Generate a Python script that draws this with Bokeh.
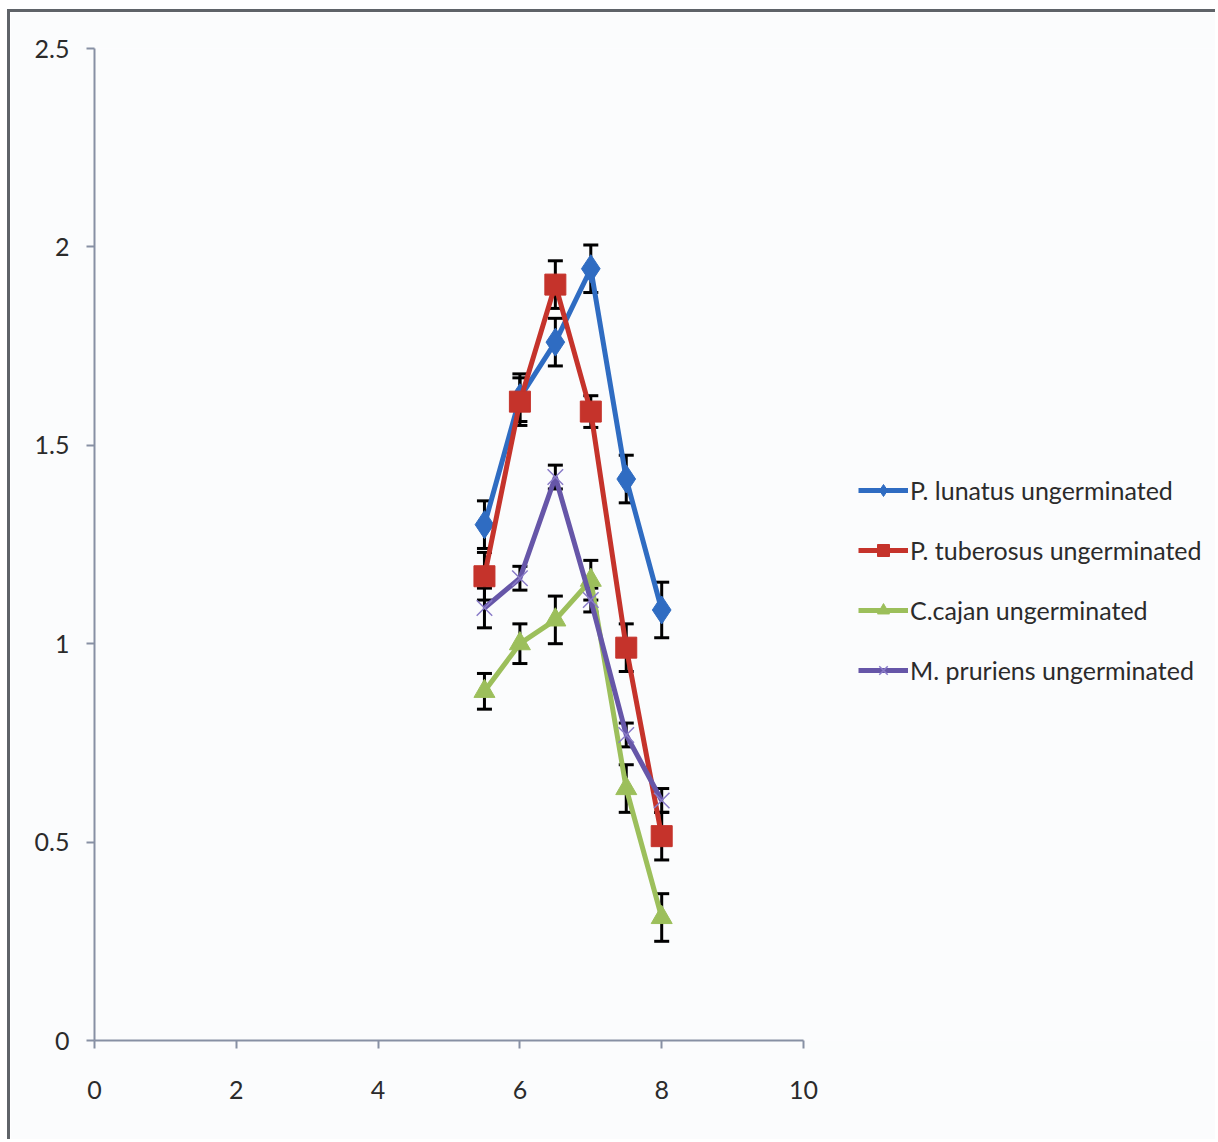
from bokeh.plotting import figure
from bokeh.models import (Range1d, ColumnDataSource, Whisker, TeeHead, Legend, LegendItem,
                          FixedTicker)
from bokeh.embed import file_html
from bokeh.resources import INLINE

# ---- data ----
ph = [5.5, 6.0, 6.5, 7.0, 7.5, 8.0]
series_names = ["P. lunatus ungerminated", "P. tuberosus ungerminated",
                "C.cajan ungerminated", "M. pruriens ungerminated"]
lunatus = [1.30, 1.62, 1.76, 1.945, 1.415, 1.085]
lunatus_err = [0.06, 0.06, 0.06, 0.06, 0.06, 0.07]
tuberosus = [1.17, 1.61, 1.905, 1.585, 0.99, 0.515]
tuberosus_err = [0.06, 0.06, 0.06, 0.04, 0.06, 0.06]
cajan = [0.88, 1.00, 1.06, 1.16, 0.635, 0.31]
cajan_err = [0.045, 0.05, 0.06, 0.05, 0.06, 0.06]
pruriens = [1.09, 1.165, 1.42, 1.11, 0.77, 0.605]
pruriens_err = [0.05, 0.03, 0.03, 0.03, 0.03, 0.03]
x_ticks = [0, 2, 4, 6, 8, 10]
y_ticks = [0, 0.5, 1, 1.5, 2, 2.5]

FONT = "Lato"
BW = 3
mx, my = 7, 9
W, H = 1218 - mx - BW, 1142 - my - BW
left = 94 - mx - BW
top = 48 - my - BW
frame_h = 1040 - 48
bottom = H - top - frame_h
frame_w = W - left
x_end = 10 * frame_w / (803 - 94)

p = figure(width=W, height=H, output_backend="svg", toolbar_location=None,
           x_range=Range1d(0, x_end), y_range=Range1d(0, 2.5),
           min_border_left=left, min_border_top=top, min_border_bottom=bottom,
           min_border_right=0)
p.margin = (my, 0, 0, mx)
p.background_fill_color = "#fbfcfd"
p.border_fill_color = "#fbfcfd"
p.outline_line_color = None
p.xgrid.visible = False
p.ygrid.visible = False
p.styles = {"border-left": "3px solid #5f6368", "border-top": "3px solid #5f6368"}

for ax in (p.xaxis[0], p.yaxis[0]):
    ax.axis_line_color = "#8790a4"
    ax.axis_line_width = 2
    ax.major_tick_line_color = "#8790a4"
    ax.major_tick_line_width = 2
    ax.major_tick_in = 0
    ax.major_tick_out = 8
    ax.minor_tick_line_color = None
    ax.major_label_text_font = FONT
    ax.major_label_text_font_size = "25px"
    ax.major_label_text_color = "#2b2b2b"
p.xaxis.bounds = (0, 10)
p.yaxis.bounds = (0, 2.5)
p.xaxis.ticker = FixedTicker(ticks=x_ticks)
p.yaxis.ticker = FixedTicker(ticks=y_ticks)
p.xaxis.major_label_standoff = 32
p.yaxis.major_label_standoff = 17
p.xaxis.major_label_overrides = {0: "0", 2: "2", 4: "4", 6: "6", 8: "8", 10: "10"}
p.yaxis.major_label_overrides = {0: "0", 0.5: "0.5", 1: "1", 1.5: "1.5", 2: "2", 2.5: "2.5"}

colors = ["#2f6cc2", "#c5332b", "#9cbf5b", "#6656a8"]
values = [lunatus, tuberosus, cajan, pruriens]
errors = [lunatus_err, tuberosus_err, cajan_err, pruriens_err]
items = []
for name, vals, errs, col, i in zip(series_names, values, errors, colors, range(4)):
    src = ColumnDataSource(dict(x=ph, y=vals,
                                lo=[v - e for v, e in zip(vals, errs)],
                                hi=[v + e for v, e in zip(vals, errs)]))
    w = Whisker(source=src, base="x", upper="hi", lower="lo", dimension="height",
                line_color="black", line_width=3, level="underlay",
                upper_head=TeeHead(size=15, line_color="black", line_width=3),
                lower_head=TeeHead(size=15, line_color="black", line_width=3))
    p.add_layout(w)
    ln = p.line("x", "y", source=src, line_color=col, line_width=5)
    if i == 0:
        mk = p.scatter("x", "y", source=src, marker="diamond", size=28,
                       fill_color=col, line_color=col)
    elif i == 1:
        mk = p.scatter("x", "y", source=src, marker="square", size=21,
                       fill_color=col, line_color=col)
    elif i == 2:
        mk = p.scatter("x", "y", source=src, marker="triangle", size=21,
                       fill_color=col, line_color=col)
    else:
        mk = p.scatter("x", "y", source=src, marker="x", size=22,
                       line_color="#8a7cc8", line_width=1.5)
    items.append(LegendItem(label=name, renderers=[ln, mk]))

legend = Legend(items=items, location=(764, 355), padding=0, margin=0,
                spacing=30, glyph_width=50, glyph_height=30, label_height=30,
                label_standoff=2, label_text_font=FONT, label_text_font_size="25px",
                label_text_color="#2b2b2b", background_fill_alpha=0,
                border_line_color=None)
p.add_layout(legend)

open("out.html", "w").write(file_html(p, INLINE))
